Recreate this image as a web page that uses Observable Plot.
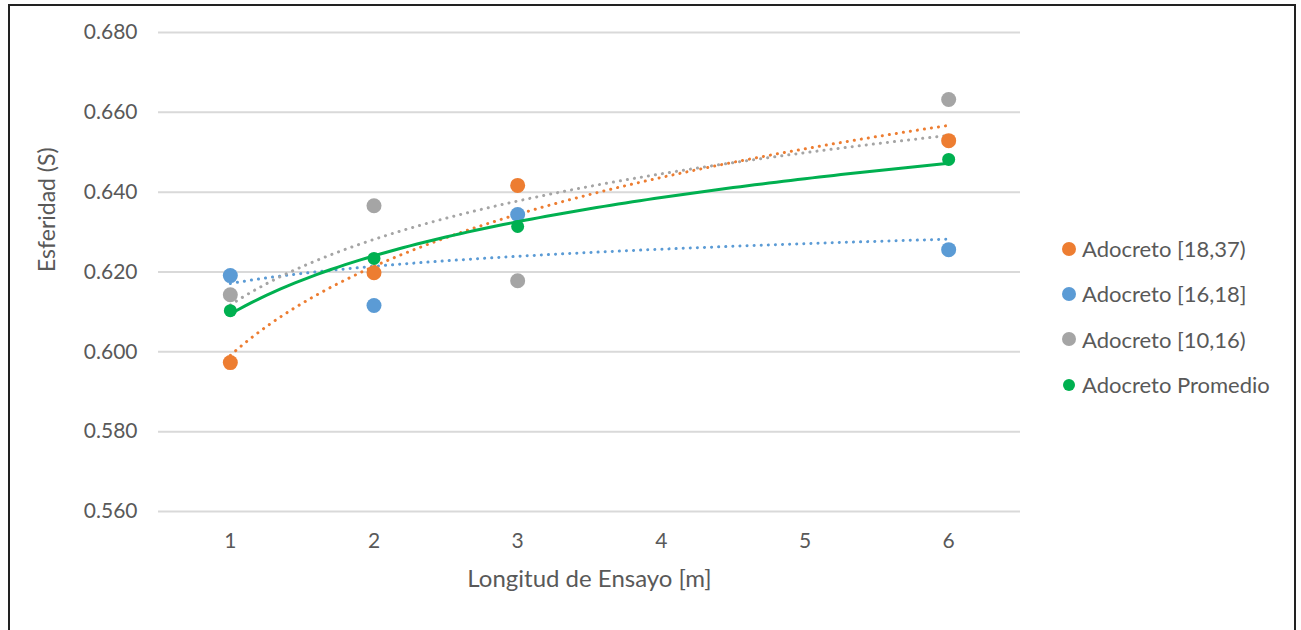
<!DOCTYPE html>
<html>
<head>
<meta charset="utf-8">
<script src="https://cdn.jsdelivr.net/npm/d3@7"></script>
<script src="https://cdn.jsdelivr.net/npm/@observablehq/plot@0.6"></script>
<style>
  html, body { margin: 0; padding: 0; background: #fff; }
  #wrap { position: relative; width: 1301px; height: 630px; overflow: hidden; font-family: Lato, "Open Sans", sans-serif; }
  #frame { position: absolute; left: 8px; top: 4px; width: 1288px; height: 640px; border: 2px solid #222; box-sizing: border-box; pointer-events: none; }
  #legend { position: absolute; left: 1062px; top: 226px; font-size: 22px; color: #595959; }
  .li { display: flex; align-items: center; height: 45.3px; }
  .dot { width: 14px; height: 14px; border-radius: 50%; margin-right: 6px; }
</style>
</head>
<body>
<div id="wrap"><div id="chart"></div><div id="legend"></div><div id="frame"></div></div>
<script>
const longitudes = [1, 2, 3, 6];
const seriesNames = ["Adocreto [18,37)", "Adocreto [16,18]", "Adocreto [10,16)", "Adocreto Promedio"];
const a1837 = [0.5973, 0.6198, 0.6417, 0.6529];
const a1618 = [0.6191, 0.6116, 0.6344, 0.6256];
const a1016 = [0.6143, 0.6366, 0.6178, 0.6632];
const aProm = [0.6103, 0.6234, 0.6314, 0.6482];
const yTicks = [0.560, 0.580, 0.600, 0.620, 0.640, 0.660, 0.680];
const xTicks = [1, 2, 3, 4, 5, 6];
const colors = ["#ED7D31", "#5B9BD5", "#A5A5A5", "#00B050"];

const allSeries = [a1837, a1618, a1016, aProm];
const points = [];
allSeries.forEach((vals, i) => vals.forEach((v, j) => points.push({x: longitudes[j], y: v, s: seriesNames[i]})));

// Logarithmic trendline (least squares y = a + b ln x), as in the spreadsheet
function logFit(xs, ys) {
  const lx = xs.map(Math.log);
  const mx = d3.mean(lx), my = d3.mean(ys);
  const b = d3.sum(lx, (v, k) => (v - mx) * (ys[k] - my)) / d3.sum(lx, v => (v - mx) ** 2);
  const a = my - b * mx;
  return x => a + b * Math.log(x);
}
const trend = [];
allSeries.forEach((vals, i) => {
  const f = logFit(longitudes, vals);
  const xs = d3.range(1, 6.0001, 0.05);
  xs.forEach(x => trend.push({x, y: f(x), s: seriesNames[i]}));
});

const chart = Plot.plot({
  width: 1301,
  height: 630,
  marginLeft: 158,
  marginRight: 281,
  marginTop: 32,
  marginBottom: 119,
  style: { fontFamily: "Lato, 'Open Sans', sans-serif", fontSize: "21px", color: "#595959", background: "transparent" },
  x: { domain: [0.5, 6.5], label: null },
  y: { domain: [0.560, 0.680], label: null },
  color: { domain: seriesNames, range: colors },
  marks: [
    Plot.gridY(yTicks, { stroke: "#D9D9D9", strokeOpacity: 1, strokeWidth: 2 }),
    Plot.axisX({ ticks: xTicks, tickSize: 0, tickPadding: 22, tickFormat: d => String(d), fontSize: 21, label: null }),
    Plot.axisY({ ticks: yTicks, tickSize: 0, tickPadding: 21, tickFormat: d3.format(".3f"), fontSize: 21, label: null }),
    Plot.line(trend.filter(d => d.s !== seriesNames[3]), { x: "x", y: "y", z: "s", stroke: "s", strokeWidth: 3, strokeDasharray: "0.1,7", strokeLinecap: "round", curve: "linear" }),
    Plot.dot(points.filter(d => d.s !== seriesNames[3]), { x: "x", y: "y", fill: "s", r: 7.5 }),
    Plot.line(trend.filter(d => d.s === seriesNames[3]), { x: "x", y: "y", stroke: "s", strokeWidth: 3 }),
    Plot.dot(points.filter(d => d.s === seriesNames[3]), { x: "x", y: "y", fill: "s", r: 6.5 }),
    Plot.text(["Longitud de Ensayo [m]"], { frameAnchor: "bottom", dy: 75, fontSize: 24, fill: "#595959" }),
    Plot.text(["Esferidad (S)"], { frameAnchor: "left", dx: -111, rotate: -90, fontSize: 23, fill: "#595959" })
  ]
});
document.getElementById("chart").appendChild(chart);

const leg = document.getElementById("legend");
seriesNames.forEach((n, i) => {
  const row = document.createElement("div");
  row.className = "li";
  const dot = document.createElement("span");
  dot.className = "dot";
  dot.style.background = colors[i];
  if (i === 3) { dot.style.width = "12px"; dot.style.height = "12px"; dot.style.margin = "0 7px 0 1px"; }
  const t = document.createElement("span");
  t.textContent = n;
  row.appendChild(dot); row.appendChild(t);
  leg.appendChild(row);
});
</script>
</body>
</html>
